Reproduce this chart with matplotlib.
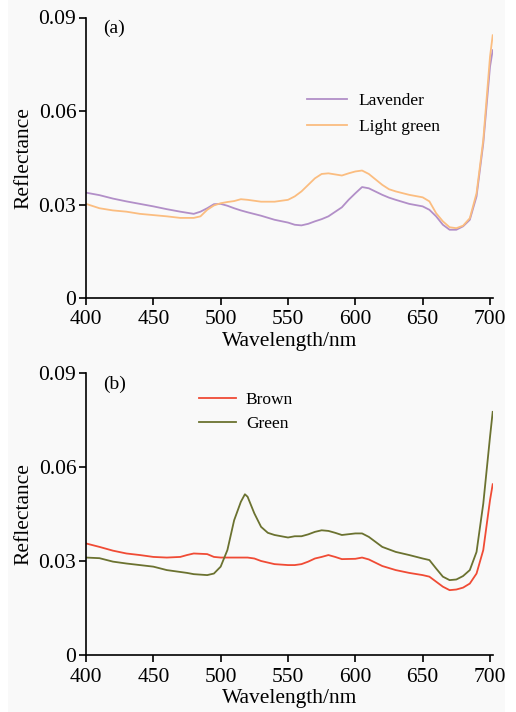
import matplotlib
matplotlib.use("Agg")
import matplotlib.pyplot as plt
from matplotlib.patches import Rectangle

plt.rcParams['font.family'] = ['Liberation Serif', 'DejaVu Serif']

# Panel (a)
wl_a = [400, 410, 420, 430, 440, 450, 460, 470, 480, 485, 490, 495, 500, 505, 510, 515, 520,
        530, 540, 550, 555, 560, 565, 570, 575, 580, 590, 595, 600, 605, 610, 620, 625, 630,
        640, 650, 655, 660, 665, 670, 675, 680, 685, 690, 695, 700, 702]
lavender = [0.0338, 0.0330, 0.0319, 0.0310, 0.0302, 0.0294, 0.0285, 0.0277, 0.0270, 0.0277,
            0.0288, 0.0301, 0.0302, 0.0296, 0.0288, 0.0281, 0.0275,
            0.0264, 0.0251, 0.0242, 0.0235, 0.0233, 0.0238, 0.0246, 0.0253, 0.0262, 0.0291,
            0.0315, 0.0336, 0.0356, 0.0352, 0.0331, 0.0322, 0.0315,
            0.0302, 0.0294, 0.0283, 0.0262, 0.0235, 0.0219, 0.0219, 0.0230, 0.0251, 0.0326,
            0.0496, 0.0742, 0.0795]
light_green = [0.0302, 0.0288, 0.0281, 0.0277, 0.0270, 0.0266, 0.0262, 0.0257, 0.0257, 0.0262,
               0.0283, 0.0297, 0.0304, 0.0308, 0.0311, 0.0317, 0.0315,
               0.0309, 0.0309, 0.0315, 0.0326, 0.0342, 0.0363, 0.0384, 0.0398, 0.0400, 0.0393,
               0.0400, 0.0406, 0.0409, 0.0398, 0.0363, 0.0349, 0.0342,
               0.0331, 0.0323, 0.0310, 0.0272, 0.0246, 0.0227, 0.0224, 0.0232, 0.0256, 0.0336,
               0.0507, 0.0774, 0.0843]

# Panel (b)
wl_b = [400, 410, 420, 430, 440, 450, 460, 470, 475, 480, 490, 495, 500, 505, 510, 515, 518,
        520, 525, 530, 535, 540, 550, 555, 560, 565, 570, 575, 580, 585, 590, 600, 605, 610,
        620, 630, 640, 650, 655, 660, 665, 670, 675, 680, 685, 690, 695, 700, 702]
brown = [0.0356, 0.0345, 0.0333, 0.0324, 0.0319, 0.0313, 0.0311, 0.0313, 0.0319, 0.0324,
         0.0322, 0.0313, 0.0311, 0.0311, 0.0311, 0.0311, 0.0311,
         0.0311, 0.0308, 0.0300, 0.0295, 0.0290, 0.0287, 0.0287, 0.0290, 0.0298, 0.0308,
         0.0313, 0.0319, 0.0313, 0.0306, 0.0307, 0.0311, 0.0305,
         0.0284, 0.0271, 0.0262, 0.0255, 0.0250, 0.0234, 0.0218, 0.0207, 0.0209, 0.0215,
         0.0228, 0.0260, 0.0335, 0.0494, 0.0545]
green = [0.0311, 0.0309, 0.0298, 0.0292, 0.0287, 0.0282, 0.0271, 0.0265, 0.0262, 0.0258,
         0.0255, 0.0260, 0.0282, 0.0335, 0.0430, 0.0489, 0.0513,
         0.0505, 0.0452, 0.0409, 0.0390, 0.0383, 0.0375, 0.0379, 0.0379, 0.0385, 0.0393,
         0.0398, 0.0396, 0.0390, 0.0383, 0.0388, 0.0388, 0.0377,
         0.0345, 0.0329, 0.0319, 0.0308, 0.0303, 0.0276, 0.0250, 0.0239, 0.0241, 0.0252,
         0.0271, 0.0329, 0.0483, 0.0696, 0.0776]

xticks = [400, 450, 500, 550, 600, 650, 700]
yticks = [0, 0.03, 0.06, 0.09]
ytick_labels = ['0', '0.03', '0.06', '0.09']

fig = plt.figure(figsize=(5.16, 7.12), dpi=100, facecolor='white')
fig.patches.append(Rectangle((8/516, 0), 497/516, 1, transform=fig.transFigure,
                             facecolor='#f9f9f9', edgecolor='none', zorder=-10))

ax1 = fig.add_axes([86/516, 1 - 298/712, 406.7/516, 280.5/712])
ax2 = fig.add_axes([86/516, 1 - 655/712, 406.7/516, 282/712])

def style(ax, label):
    ax.set_facecolor('none')
    ax.set_xlim(400, 702)
    ax.set_ylim(0, 0.09)
    ax.set_xticks(xticks)
    ax.set_yticks(yticks)
    ax.set_yticklabels(ytick_labels)
    for s in ['top', 'right']:
        ax.spines[s].set_visible(False)
    for s in ['left', 'bottom']:
        ax.spines[s].set_linewidth(1.2)
    ax.tick_params(direction='out', length=5, width=1.2, labelsize=15.5, pad=2)
    ax.tick_params(axis='x', pad=4)
    ax.set_xlabel('Wavelength/nm', fontsize=15.5, labelpad=2)
    ax.set_ylabel('Reflectance', fontsize=15.5, labelpad=4)
    ax.text(0.042, 0.96, label, transform=ax.transAxes, fontsize=14, va='center', ha='left')

ax1.plot(wl_a, lavender, color='#b28fc8', lw=1.3, label='Lavender')
ax1.plot(wl_a, light_green, color='#fbbd80', lw=1.3, label='Light green')
style(ax1, '(a)')
ax1.legend(loc='upper left', bbox_to_anchor=(0.543, 0.732), frameon=False, fontsize=12.5,
           handlelength=2.3, handletextpad=0.7, labelspacing=0.6, borderpad=0, borderaxespad=0)

ax2.plot(wl_b, brown, color='#f04b35', lw=1.3, label='Brown')
ax2.plot(wl_b, green, color='#6b7230', lw=1.3, label='Green')
style(ax2, '(b)')
ax2.legend(loc='upper left', bbox_to_anchor=(0.278, 0.932), frameon=False, fontsize=12.5,
           handlelength=2.1, handletextpad=0.6, labelspacing=0.45, borderpad=0, borderaxespad=0)

fig.savefig('out.png', dpi=100, facecolor=fig.get_facecolor())
